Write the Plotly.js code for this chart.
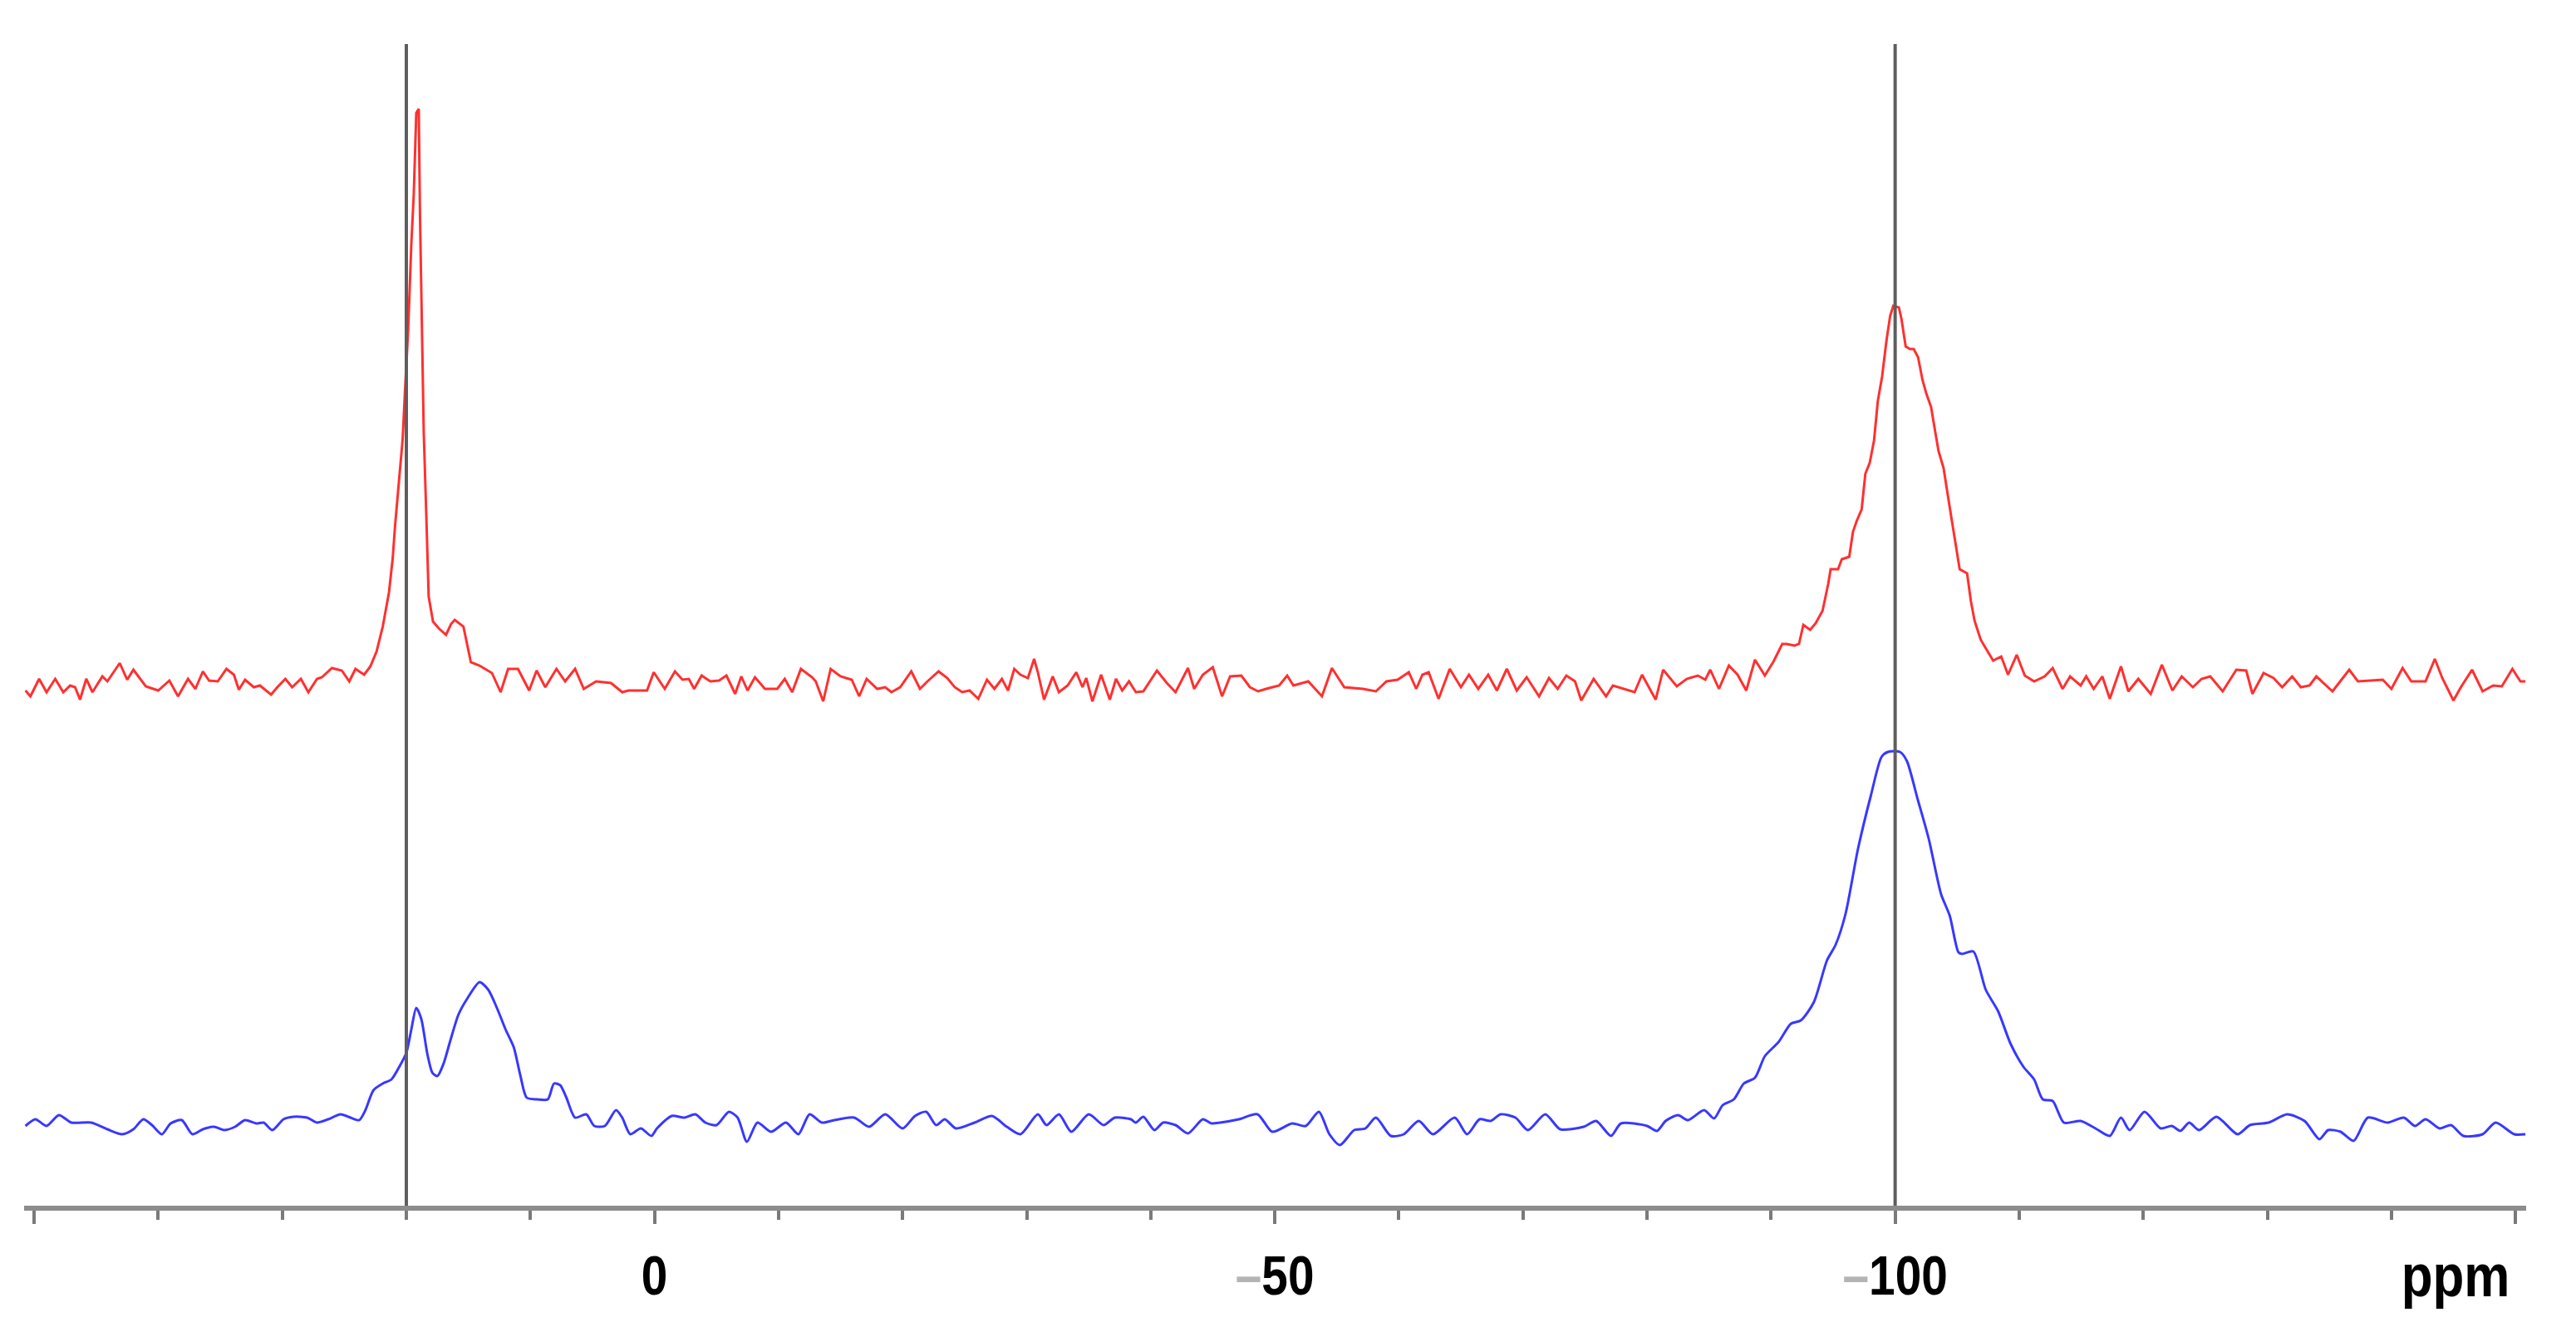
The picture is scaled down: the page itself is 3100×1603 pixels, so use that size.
<!DOCTYPE html>
<html>
<head>
<meta charset="utf-8">
<script src="https://cdn.plot.ly/plotly-3.0.1.min.js"></script>
<style>
	html, body { margin: 0; padding: 0; background: #ffffff; }
	#spectrum { width: 3100px; height: 1603px; }
</style>
</head>
<body>
<div id="spectrum"></div>
<script>
// chemical shift (ppm) and intensity (a.u.)
const redPoints = [
	[50.7, -4], [50.3, -11], [49.6, 10], [49.0, -6], [48.3, 10], [47.65, -6], [47.1, 2], [46.7, 0], [46.3, -15], [45.8, 10],
	[45.3, -6], [44.5, 13], [44.1, 7], [43.1, 29], [42.5, 9], [42.0, 21], [41.0, 1], [40.0, -4], [39.1, 8], [38.4, -11],
	[37.6, 10], [37.0, -2], [36.4, 19], [35.9, 8], [35.2, 7], [34.5, 22], [33.9, 15], [33.5, -3], [33.0, 9], [32.3, 0],
	[31.8, 2], [30.9, -9], [30.4, 0], [29.75, 10], [29.2, 0], [28.5, 10], [27.9, -6], [27.2, 10], [26.8, 12], [26.0, 23],
	[25.2, 20], [24.6, 7], [24.1, 22], [23.4, 15], [22.9, 25], [22.4, 43], [21.9, 73], [21.4, 114], [21.1, 155], [20.9, 196],
	[20.6, 247], [20.3, 298], [20.1, 359], [19.85, 431], [19.6, 533], [19.4, 594], [19.2, 691], [19.0, 696], [18.9, 568], [18.7, 410],
	[18.6, 308], [18.4, 211], [18.2, 109], [17.85, 79], [17.4, 71], [16.8, 63], [16.4, 76], [16.1, 81], [15.4, 73], [14.8, 30],
	[14.1, 26], [13.1, 17], [12.4, -6], [11.8, 22], [11.0, 22], [10.1, -4], [9.5, 20], [8.8, 0], [7.9, 22], [7.2, 7],
	[6.4, 22], [5.7, -2], [4.7, 7], [3.5, 5], [2.6, -6], [2.1, -4], [0.6, -4], [0.06, 18], [-0.83, -2], [-1.65, 19],
	[-2.26, 9], [-2.77, 10], [-3.2, -2], [-3.8, 14], [-4.5, 7], [-5.2, 8], [-5.8, 14], [-6.5, -8], [-7.0, 13], [-7.5, -4],
	[-8.1, 12], [-8.9, -2], [-9.9, -2], [-10.5, 10], [-11.1, -6], [-11.8, 22], [-12.7, 12], [-13.0, 7], [-13.6, -17], [-14.2, 22],
	[-15.0, 13], [-15.9, 9], [-16.5, -11], [-17.1, 10], [-17.95, -2], [-18.6, 0], [-19.1, -6], [-19.8, 0], [-20.7, 19], [-21.4, -2],
	[-22.0, 7], [-22.9, 19], [-23.6, 11], [-24.2, 0], [-24.8, -6], [-25.4, -4], [-26.1, -14], [-26.8, 9], [-27.4, -2], [-28.0, 10],
	[-28.5, -4], [-29.0, 22], [-29.5, 15], [-30.1, 11], [-30.6, 34], [-30.9, 18], [-31.4, -15], [-32.1, 13], [-32.6, -6], [-33.3, 2],
	[-34.0, 18], [-34.5, 0], [-34.8, 11], [-35.3, -17], [-36.0, 15], [-36.7, -15], [-37.2, 10], [-37.7, -4], [-38.25, 7], [-38.8, -6],
	[-39.4, -5], [-40.5, 20], [-41.3, 5], [-42.0, -6], [-43.0, 23], [-43.5, -2], [-44.2, 15], [-45.0, 24], [-45.75, -11], [-46.4, 13],
	[-47.3, 14], [-48.0, 0], [-48.65, -5], [-49.3, -2], [-50.35, 2], [-51.0, 14], [-51.5, 2], [-52.7, 7], [-53.8, -11], [-54.6, 23],
	[-55.6, 0], [-57.1, -2], [-58.15, -5], [-59.0, 7], [-59.9, 9], [-60.8, 18], [-61.4, -2], [-61.9, 15], [-62.4, 18], [-63.2, -14],
	[-64.1, 22], [-65.0, 0], [-65.65, 15], [-66.4, -2], [-67.2, 15], [-67.9, -4], [-68.7, 22], [-69.5, -4], [-70.3, 12], [-71.3, -11],
	[-72.1, 11], [-72.8, -2], [-73.5, 14], [-74.2, 7], [-74.7, -16], [-75.7, 10], [-76.7, -11], [-77.25, 2], [-78.1, -2], [-79.0, -6],
	[-79.6, 15], [-80.7, -15], [-81.3, 21], [-82.4, 1], [-83.2, 10], [-84.1, 14], [-84.7, 9], [-85.1, 21], [-85.8, -2], [-86.6, 26],
	[-87.3, 15], [-88.0, -4], [-88.7, 33], [-89.5, 14], [-90.2, 31], [-90.9, 52], [-91.25, 52], [-91.9, 50], [-92.25, 52], [-92.6, 75],
	[-93.15, 69], [-93.6, 77], [-94.15, 92], [-94.6, 124], [-94.8, 142], [-95.4, 142], [-95.7, 154], [-96.3, 157], [-96.6, 187], [-96.9, 200],
	[-97.3, 214], [-97.6, 257], [-97.95, 270], [-98.3, 297], [-98.6, 344], [-98.95, 374], [-99.3, 417], [-99.6, 447], [-99.85, 459], [-100.3, 457],
	[-100.5, 444], [-100.85, 410], [-101.2, 407], [-101.5, 407], [-101.85, 397], [-102.2, 370], [-102.5, 354], [-102.9, 337], [-103.2, 310], [-103.5, 284],
	[-103.9, 264], [-104.2, 234], [-104.5, 207], [-104.9, 170], [-105.2, 142], [-105.8, 137], [-106.1, 104], [-106.4, 80], [-106.9, 57], [-107.3, 47],
	[-107.9, 32], [-108.55, 37], [-109.1, 15], [-109.8, 39], [-110.45, 14], [-111.2, 7], [-112.05, 13], [-112.7, 23], [-113.5, -2], [-114.1, 13],
	[-114.95, 2], [-115.4, 13], [-116.0, -2], [-116.7, 13], [-117.3, -14], [-118.2, 25], [-118.8, -5], [-119.6, 10], [-120.6, -8], [-121.5, 27],
	[-122.35, -4], [-123.1, 13], [-124.0, 0], [-124.7, 10], [-125.4, 13], [-126.4, -5], [-127.5, 21], [-128.3, 20], [-128.8, -8], [-129.7, 17],
	[-130.5, 11], [-131.2, 0], [-132.0, 13], [-132.7, 0], [-133.4, 2], [-133.95, 13], [-135.25, -5], [-136.6, 21], [-137.3, 7], [-139.3, 9],
	[-140.0, -2], [-140.9, 23], [-141.6, 7], [-142.75, 7], [-143.5, 34], [-144.1, 11], [-145.0, -16], [-145.6, 0], [-146.5, 21], [-147.35, -5],
	[-148.2, 2], [-148.9, 1], [-149.75, 22], [-150.4, 7], [-150.8, 7],
]

const bluePoints = [
	[50.7, -4], [49.9, 4], [49.0, -4], [48.0, 9], [47.0, 0], [45.4, 0], [44.1, -8], [42.9, -14], [42.0, -8], [41.2, 4],
	[40.5, -3], [39.7, -14], [39.0, -1], [38.1, 3], [37.25, -14], [36.4, -8], [35.5, -5], [34.7, -9], [33.8, -5], [33.0, 3],
	[32.1, -1], [31.5, 0], [30.8, -9], [29.9, 4], [29.1, 7], [28.0, 6], [27.2, 0], [26.3, 4], [25.3, 10], [24.5, 6],
	[23.8, 3], [23.3, 15], [22.65, 39], [21.9, 47], [21.2, 52], [20.5, 69], [20.0, 84], [19.6, 112], [19.2, 138], [18.8, 125],
	[18.3, 82], [17.9, 60], [17.5, 56], [17.0, 71], [16.45, 99], [15.8, 130], [15.1, 149], [14.1, 169], [13.4, 160], [12.7, 138],
	[12.0, 112], [11.35, 91], [10.8, 56], [10.3, 30], [9.45, 28], [8.6, 28], [8.1, 47], [7.6, 45], [7.1, 30], [6.4, 6],
	[5.5, 10], [4.85, -4], [4.0, -4], [3.1, 15], [2.6, 6], [1.95, -14], [1.1, -7], [0.25, -16], [-0.2, -7], [-1.4, 8],
	[-2.4, 6], [-3.3, 10], [-4.1, 0], [-5.0, -3], [-6.0, 13], [-6.7, 6], [-7.45, -23], [-8.3, 0], [-9.4, -11], [-10.6, 0],
	[-11.6, -14], [-12.5, 10], [-13.5, 0], [-14.5, 3], [-16.1, 6], [-17.3, -5], [-18.6, 10], [-20.0, -7], [-21.0, 8], [-21.9, 13],
	[-22.7, -3], [-23.4, 4], [-24.3, -7], [-25.8, 0], [-27.2, 8], [-28.4, -5], [-29.5, -14], [-30.9, 10], [-31.6, -3], [-32.6, 10],
	[-33.6, -11], [-35.0, 10], [-36.2, -3], [-37.1, 6], [-38.4, 4], [-38.8, 0], [-39.4, 7], [-40.3, -9], [-41.0, 0], [-42.0, -3],
	[-43.0, -13], [-44.2, 4], [-44.9, -1], [-45.6, 0], [-47.1, 4], [-48.6, 10], [-49.8, -11], [-51.4, -1], [-52.5, -4], [-53.55, 13],
	[-54.4, -14], [-55.25, -27], [-56.4, -9], [-57.3, -7], [-58.15, 6], [-59.35, -16], [-60.4, -14], [-61.6, 2], [-62.75, -14], [-64.5, 6],
	[-65.5, -14], [-66.5, 4], [-67.4, 2], [-68.2, 10], [-69.4, 6], [-70.4, -9], [-71.8, 10], [-73.0, -8], [-74.9, -5], [-75.9, 2],
	[-77.1, -16], [-77.9, -1], [-80.0, -4], [-80.8, -10], [-81.5, 2], [-82.5, 9], [-83.3, 3], [-84.6, 15], [-85.4, 5], [-86.1, 21],
	[-87.0, 28], [-87.8, 47], [-88.7, 54], [-89.5, 80], [-90.6, 97], [-91.6, 119], [-92.4, 123], [-93.45, 145], [-94.5, 195], [-95.2, 214],
	[-96.0, 251], [-97.0, 329], [-98.05, 394], [-98.9, 440], [-99.4, 446], [-100.4, 446], [-100.95, 435], [-101.8, 390], [-102.7, 342], [-103.7, 275],
	[-104.4, 249], [-105.1, 205], [-105.4, 203], [-106.3, 206], [-107.3, 160], [-108.3, 134], [-109.3, 95], [-110.35, 67], [-111.2, 52], [-111.9, 28],
	[-112.7, 26], [-113.6, 0], [-114.95, 2], [-116.15, -7], [-117.3, -16], [-118.2, 6], [-118.9, -9], [-120.1, 13], [-121.4, -7], [-122.3, -4],
	[-123.0, -10], [-123.7, 0], [-124.5, -9], [-125.9, 7], [-127.6, -14], [-128.6, -3], [-130.1, 0], [-131.6, 10], [-133.0, 2], [-134.2, -20],
	[-134.9, -9], [-135.9, -11], [-136.95, -22], [-138.1, 6], [-139.7, 0], [-141.0, 6], [-141.9, -4], [-142.75, 4], [-143.9, -7], [-144.8, -3],
	[-145.8, -16], [-147.35, -14], [-148.4, 0], [-149.9, -14], [-150.8, -14],
]

// reference positions marked with vertical lines
const markerShifts = [20, -100]

const majorTicks = [50, 0, -50, -100, -150]
const majorLabels = ['', '0', '–50', '–100', '']

// vertical stacking of the two spectra
const redOffset = 624
const blueOffset = 100

const labelFont = "'Liberation Sans Narrow', 'Arial Narrow', 'Liberation Sans', Arial, sans-serif"

function spectrumTrace(points, offset, color, shape) {
	return {
		x: points.map((p) => p[0]),
		y: points.map((p) => p[1] + offset),
		type: 'scatter',
		mode: 'lines',
		line: { color: color, width: 3, shape: shape, smoothing: 0.7 },
		hoverinfo: 'skip',
		showlegend: false,
	}
}

// the reference lettering is a condensed bold face: squeeze the labels a little
function condenseLabels() {
	const labels = document.querySelectorAll('#spectrum .xtick text, #spectrum .annotation-text')
	labels.forEach((el) => {
		const width = el.getComputedTextLength()
		if (width > 0) {
			el.setAttribute('textLength', (width * 0.86).toFixed(1))
			el.setAttribute('lengthAdjust', 'spacingAndGlyphs')
		}
	})
}

function drawSpectrum() {
	const traces = [
		spectrumTrace(redPoints, redOffset, '#ff3030', 'linear'),
		spectrumTrace(bluePoints, blueOffset, '#3838ff', 'spline'),
	]

	const ticktext = majorLabels.map((label) =>
		label.startsWith('–')
			? '<span style="color:#b4b4b4">–</span>' + label.slice(1)
			: label,
	)

	const layout = {
		width: 3100,
		height: 1603,
		paper_bgcolor: '#ffffff',
		plot_bgcolor: '#ffffff',
		margin: { l: 29, r: 60, t: 53, b: 152, pad: 0 },
		xaxis: {
			range: [50.81, -150.86],
			showgrid: false,
			zeroline: false,
			showline: true,
			linecolor: '#8c8c8c',
			linewidth: 6,
			ticks: 'outside',
			ticklen: 16,
			tickwidth: 4,
			tickcolor: '#7a7a7a',
			tickmode: 'array',
			tickvals: majorTicks,
			ticktext: ticktext,
			ticklabelstandoff: 6,
			tickfont: { family: labelFont, size: 66, color: '#000000', weight: 'bold' },
			minor: {
				tickmode: 'linear',
				tick0: 0,
				dtick: 10,
				ticks: 'outside',
				ticklen: 11,
				tickwidth: 4,
				tickcolor: '#7a7a7a',
				showgrid: false,
			},
			fixedrange: true,
		},
		yaxis: {
			range: [0, 1398],
			visible: false,
			fixedrange: true,
		},
		shapes: markerShifts.map((shift) => ({
			type: 'line',
			xref: 'x',
			yref: 'paper',
			x0: shift,
			x1: shift,
			y0: 0,
			y1: 1,
			line: { color: '#5e5e5e', width: 4 },
			layer: 'above',
		})),
		annotations: [
			{
				text: 'ppm',
				xref: 'paper',
				yref: 'paper',
				x: 1,
				y: 0,
				xanchor: 'right',
				yanchor: 'top',
				xshift: -7,
				yshift: -42,
				showarrow: false,
				font: { family: labelFont, size: 72, color: '#000000', weight: 'bold' },
			},
		],
	}

	Plotly.newPlot('spectrum', traces, layout, { displayModeBar: false, staticPlot: true })
		.then(condenseLabels)
}

window.onload = drawSpectrum
</script>
</body>
</html>
